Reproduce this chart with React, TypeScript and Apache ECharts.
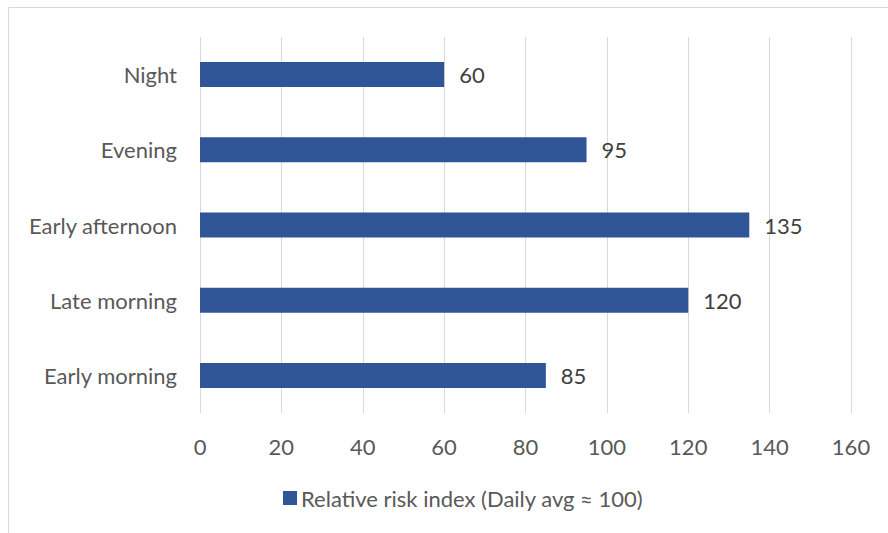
import React, { useEffect, useRef } from "react";
import * as echarts from "echarts";

const categories = ["Early morning", "Late morning", "Early afternoon", "Evening", "Night"];
const values = [85, 120, 135, 95, 60];
const seriesName = "Relative risk index (Daily avg ≈ 100)";
const xMin = 0;
const xMax = 160;
const xInterval = 20;

export default function App() {
  const ref = useRef<HTMLDivElement>(null);
  useEffect(() => {
    if (!ref.current) return;
    const chart = echarts.init(ref.current, null, { renderer: "svg" });
    const font = "Lato, 'Noto Sans', sans-serif";
    chart.setOption({
      animation: false,
      backgroundColor: "#ffffff",
      textStyle: { fontFamily: font },
      graphic: [
        {
          type: "rect",
          shape: { x: 8.5, y: 7.5, width: 1000, height: 1000 },
          style: { fill: "none", stroke: "#D9D9D9", lineWidth: 1 },
          silent: true,
        },
      ],
      grid: { left: 200, right: 37, top: 37, bottom: 120, containLabel: false },
      xAxis: {
        type: "value",
        min: xMin,
        max: xMax,
        interval: xInterval,
        axisLine: { show: false },
        axisTick: { show: false },
        splitLine: { show: true, lineStyle: { color: "#D9D9D9", width: 1 } },
        axisLabel: { color: "#595959", fontSize: 22, fontFamily: font, margin: 22 },
      },
      yAxis: {
        type: "category",
        data: categories,
        axisLine: { show: false },
        axisTick: { show: false },
        splitLine: { show: false },
        axisLabel: { color: "#595959", fontSize: 22, fontFamily: font, margin: 23 },
      },
      legend: {
        show: true,
        left: 278,
        top: 482,
        itemWidth: 14,
        itemHeight: 14,
        itemGap: 5,
        icon: "rect",
        textStyle: { color: "#595959", fontSize: 22, fontFamily: font, padding: [0, 0, 0, -1] },
        data: [seriesName],
      },
      series: [
        {
          name: seriesName,
          type: "bar",
          data: values,
          barWidth: 25,
          itemStyle: { color: "#2F5597" },
          label: {
            show: true,
            position: "right",
            distance: 15,
            color: "#404040",
            fontSize: 22,
            fontFamily: font,
          },
        },
      ],
    });
    return () => chart.dispose();
  }, []);
  return (
    <div
      ref={ref}
      style={{ position: "absolute", left: 0, top: 0, width: 888, height: 533 }}
    />
  );
}
